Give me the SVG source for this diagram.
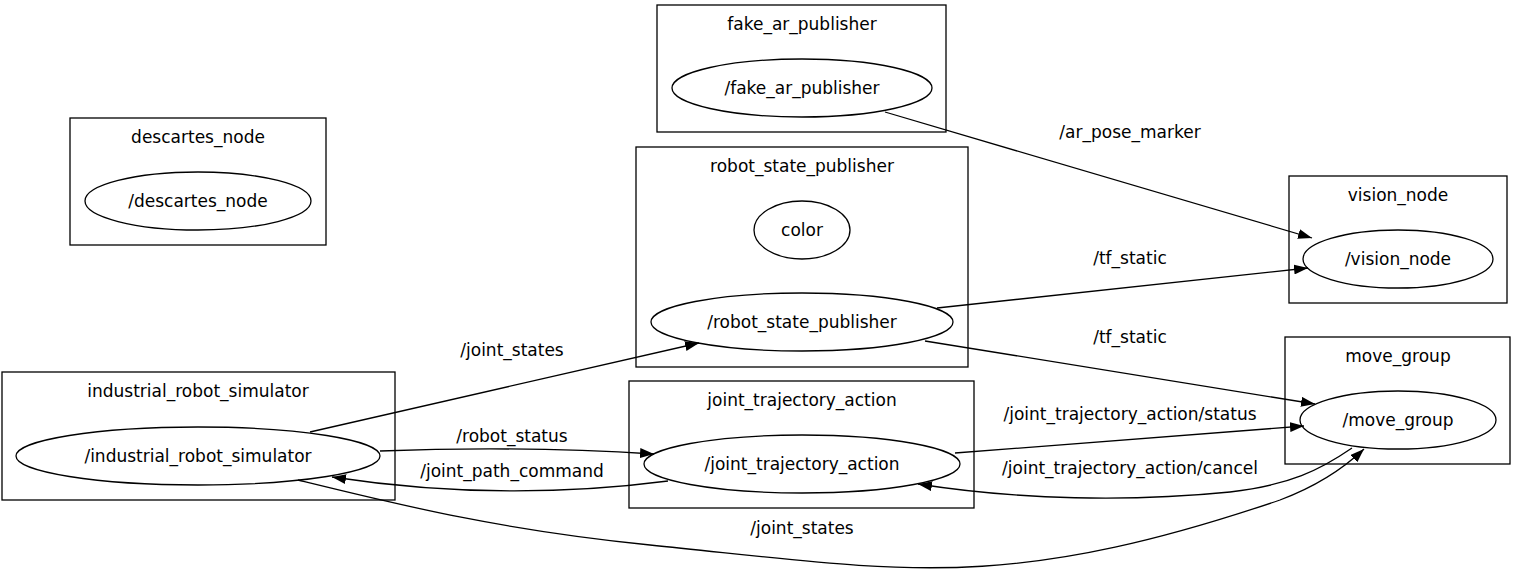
<svg xmlns="http://www.w3.org/2000/svg" width="1513" height="579" viewBox="0 0 1513 579">
<defs>
<style>
.c{fill:none;stroke:#000;stroke-width:1.3}
.n{fill:none;stroke:#000;stroke-width:1.3}
.e{fill:none;stroke:#000;stroke-width:1.3}
text{font-family:"DejaVu Sans","Liberation Sans",sans-serif;font-size:17px;text-anchor:middle;fill:#000}
</style>
<marker id="a" markerWidth="14" markerHeight="10" refX="14" refY="5" orient="auto" markerUnits="userSpaceOnUse"><path d="M0,0L14,5L0,10Z" fill="#000"/></marker>
</defs>
<rect width="1513" height="579" fill="#fff"/>
<g id="fake_ar_publisher"><rect class="c" x="657" y="5" width="289" height="127"/><text x="802" y="30">fake_ar_publisher</text><ellipse class="n" cx="802" cy="88" rx="130" ry="29"/><text x="802" y="94">/fake_ar_publisher</text></g>
<g id="descartes_node"><rect class="c" x="70" y="118" width="256" height="127"/><text x="198" y="143">descartes_node</text><ellipse class="n" cx="198" cy="201" rx="113" ry="29"/><text x="198" y="207">/descartes_node</text></g>
<g id="robot_state_publisher"><rect class="c" x="636" y="147" width="332" height="220"/><text x="802" y="172">robot_state_publisher</text><ellipse class="n" cx="802" cy="230" rx="48" ry="29"/><text x="802" y="236">color</text><ellipse class="n" cx="802" cy="322" rx="151" ry="29"/><text x="802" y="328">/robot_state_publisher</text></g>
<g id="vision_node"><rect class="c" x="1289" y="176" width="218" height="127"/><text x="1398" y="201">vision_node</text><ellipse class="n" cx="1398" cy="259" rx="95" ry="29"/><text x="1398" y="265">/vision_node</text></g>
<g id="move_group"><rect class="c" x="1285" y="337" width="225" height="127"/><text x="1398" y="362">move_group</text><ellipse class="n" cx="1398" cy="420" rx="98" ry="29"/><text x="1398" y="426">/move_group</text></g>
<g id="industrial_robot_simulator"><rect class="c" x="2" y="372" width="393" height="128"/><text x="198" y="397">industrial_robot_simulator</text><ellipse class="n" cx="198" cy="456" rx="182" ry="29"/><text x="198" y="462">/industrial_robot_simulator</text></g>
<g id="joint_trajectory_action"><rect class="c" x="629" y="381" width="345" height="127"/><text x="802" y="406">joint_trajectory_action</text><ellipse class="n" cx="802" cy="464" rx="158" ry="29"/><text x="802" y="470">/joint_trajectory_action</text></g>
<g id="edges">
<path class="e" marker-end="url(#a)" d="M885,112L1312,238"/><text x="1130" y="138">/ar_pose_marker</text>
<path class="e" marker-end="url(#a)" d="M937,308L1308,268"/><text x="1130" y="264">/tf_static</text>
<path class="e" marker-end="url(#a)" d="M925,341L1315,404"/><text x="1130" y="343">/tf_static</text>
<path class="e" marker-end="url(#a)" d="M310,432L699,343"/><text x="512" y="356">/joint_states</text>
<path class="e" marker-end="url(#a)" d="M380,451C460,448 560,448 654,454"/><text x="512" y="442">/robot_status</text>
<path class="e" marker-end="url(#a)" d="M668,481C560,495 450,495 332,477"/><text x="512" y="477">/joint_path_command</text>
<path class="e" marker-end="url(#a)" d="M955,453L1304,426"/><text x="1130" y="420">/joint_trajectory_action/status</text>
<path class="e" marker-end="url(#a)" d="M1352,448C1320,470 1290,485 1230,492C1130,502 1020,500 918,484"/><text x="1130" y="474">/joint_trajectory_action/cancel</text>
<path class="e" marker-end="url(#a)" d="M298,480C400,505 500,530 650,545C900,570 1000,595 1280,500C1320,485 1345,467 1364,449"/><text x="802" y="534">/joint_states</text>
</g>
</svg>
